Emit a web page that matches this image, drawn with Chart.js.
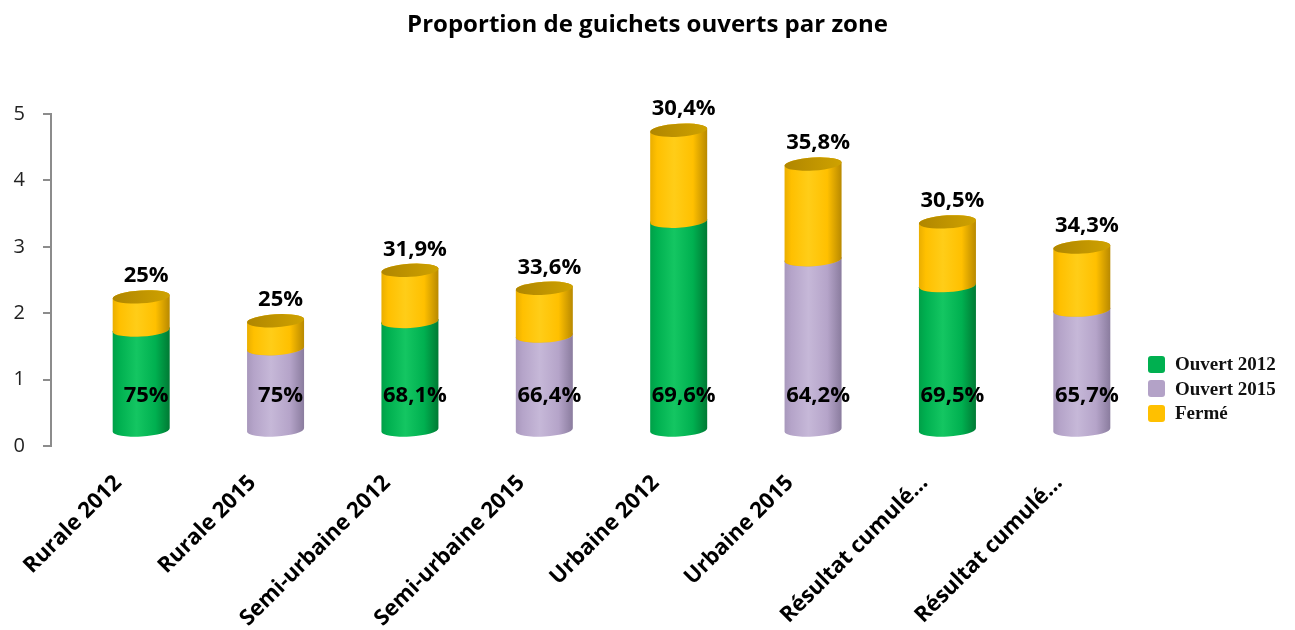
<!DOCTYPE html>
<html>
<head>
<meta charset="utf-8">
<script src="https://cdn.jsdelivr.net/npm/chart.js@4.4.0/dist/chart.umd.min.js"></script>
<style>
  html, body { margin: 0; padding: 0; background: #fff; }
  #wrap { position: relative; width: 1295px; height: 630px; }
  #legend { position: absolute; left: 1148px; top: 352px; font: bold 19px "Liberation Serif", serif; color: #111; }
  .row { display: flex; align-items: center; height: 24.5px; }
  .sw { width: 17px; height: 17px; border-radius: 3px; margin-right: 10px; }
</style>
</head>
<body>
<div id="wrap">
  <canvas id="c" width="1295" height="630"></canvas>
  <div id="legend"></div>
</div>
<script>
const titleText = 'Proportion de guichets ouverts par zone';
const categories = ['Rurale 2012', 'Rurale 2015', 'Semi-urbaine 2012', 'Semi-urbaine 2015',
                    'Urbaine 2012', 'Urbaine 2015', 'Résultat cumulé…', 'Résultat cumulé…'];
const open2012 = [1.52, null, 1.65, null, 3.16, null, 2.19, null];
const open2015 = [null, 1.24, null, 1.43, null, 2.58, null, 1.82];
const closed   = [0.50, 0.42, 0.77, 0.72, 1.37, 1.44, 0.96, 0.95];
const openLabels   = ['75%', '75%', '68,1%', '66,4%', '69,6%', '64,2%', '69,5%', '65,7%'];
const closedLabels = ['25%', '25%', '31,9%', '33,6%', '30,4%', '35,8%', '30,5%', '34,3%'];
const yTicks = [0, 1, 2, 3, 4, 5];

const palette = {
  'Ouvert 2012': { l: '#00a048', b: '#00b050', h: '#14c662', r: '#007a34', top: ['#009a45', '#00b552'], legend: '#00b050' },
  'Ouvert 2015': { l: '#a898bc', b: '#b5a4c9', h: '#c6b8d8', r: '#8a7c9e', top: ['#9f90b3', '#bcaed0'], legend: '#b3a2c7' },
  'Fermé':       { l: '#eaae00', b: '#ffc000', h: '#ffcd18', r: '#b88900', top: ['#b08600', '#cfa200'], legend: '#ffc000' }
};

const DX = 23, DY = -15, RY = 6.5, ROT = -0.06;

function bodyGradient(ctx, x0, x1, p) {
  const g = ctx.createLinearGradient(x0, 0, x1, 0);
  g.addColorStop(0, p.l);
  g.addColorStop(0.12, p.b);
  g.addColorStop(0.42, p.h);
  g.addColorStop(0.75, p.b);
  g.addColorStop(1, p.r);
  return g;
}

const titlePlugin = {
  id: 'centeredTitle',
  afterDraw(chart) {
    const ctx = chart.ctx;
    ctx.save();
    ctx.fillStyle = '#000';
    ctx.font = 'bold 24px "Open Sans", sans-serif';
    ctx.textAlign = 'center';
    ctx.textBaseline = 'middle';
    ctx.fillText(titleText, chart.width / 2, 25);
    ctx.restore();
  }
};

const cylinderPlugin = {
  id: 'cylinders',
  afterDatasetsDraw(chart) {
    const ctx = chart.ctx;
    const n = categories.length;
    const topByIndex = [];
    const baseByIndex = [];
    ctx.save();
    chart.data.datasets.forEach((ds, di) => {
      const meta = chart.getDatasetMeta(di);
      const p = palette[ds.label];
      meta.data.forEach((el, i) => {
        const v = ds.data[i];
        if (v === null || v === undefined) return;
        const props = el.getProps(['x', 'y', 'base', 'width'], true);
        const cx = props.x + DX, rx = props.width / 2;
        const ty = props.y + DY, by = props.base + DY;
        topByIndex[i] = Math.min(topByIndex[i] === undefined ? Infinity : topByIndex[i], ty);
        if (baseByIndex[i] === undefined) baseByIndex[i] = by;
        ctx.beginPath();
        ctx.ellipse(cx, by, rx, RY, ROT, Math.PI, 0, true);
        ctx.ellipse(cx, ty, rx, RY, ROT, 0, Math.PI, true);
        ctx.closePath();
        ctx.fillStyle = bodyGradient(ctx, cx - rx, cx + rx, p);
        ctx.fill();
        ctx.beginPath();
        ctx.ellipse(cx, ty, rx, RY, ROT, 0, Math.PI * 2);
        const tg = ctx.createLinearGradient(cx - rx, 0, cx + rx, 0);
        tg.addColorStop(0, p.top[0]);
        tg.addColorStop(1, p.top[1]);
        ctx.fillStyle = tg;
        ctx.fill();
      });
    });
    ctx.fillStyle = '#000';
    ctx.font = 'bold 22px "Open Sans", sans-serif';
    ctx.textAlign = 'center';
    ctx.textBaseline = 'middle';
    const meta0 = chart.getDatasetMeta(2);
    for (let i = 0; i < n; i++) {
      const el = meta0.data[i];
      const cx = el.x + DX + 5;
      ctx.fillText(closedLabels[i], cx, topByIndex[i] - 21);
      ctx.fillText(openLabels[i], cx, baseByIndex[i] - 34);
    }
    ctx.restore();
  }
};

const chart = new Chart(document.getElementById('c'), {
  type: 'bar',
  data: {
    labels: categories,
    datasets: [
      { label: 'Ouvert 2012', data: open2012 },
      { label: 'Ouvert 2015', data: open2015 },
      { label: 'Fermé', data: closed }
    ].map(d => Object.assign(d, { backgroundColor: 'rgba(0,0,0,0)', borderWidth: 0, categoryPercentage: 1, barPercentage: 0.425 }))
  },
  options: {
    responsive: false,
    animation: false,
    layout: { padding: { left: 0, right: 169, top: 114, bottom: 0 } },
    plugins: {
      legend: { display: false },
      tooltip: { enabled: false },
      title: { display: false }
    },
    scales: {
      x: {
        stacked: true,
        grid: { display: false },
        border: { display: false },
        ticks: {
          color: '#000',
          font: { family: '"Open Sans", sans-serif', size: 22, weight: 'bold' },
          minRotation: 45, maxRotation: 45, autoSkip: false, padding: 16
        },
        afterFit(s) { s.height = 184; }
      },
      y: {
        stacked: true,
        min: 0, max: 5,
        afterBuildTicks(s) { s.ticks = yTicks.map(v => ({ value: v })); },
        grid: { drawOnChartArea: false, drawTicks: true, tickLength: 8, color: '#8c8c8c', lineWidth: 2 },
        border: { display: true, color: '#8c8c8c', width: 2 },
        ticks: { color: '#222', font: { family: '"Open Sans", sans-serif', size: 20 }, padding: 18 },
        afterFit(s) { s.width = 51; }
      }
    }
  },
  plugins: [cylinderPlugin, titlePlugin]
});

const leg = document.getElementById('legend');
Object.keys(palette).forEach(k => {
  const r = document.createElement('div');
  r.className = 'row';
  r.innerHTML = '<div class="sw" style="background:' + palette[k].legend + '"></div><span>' + k + '</span>';
  leg.appendChild(r);
});
</script>
</body>
</html>
